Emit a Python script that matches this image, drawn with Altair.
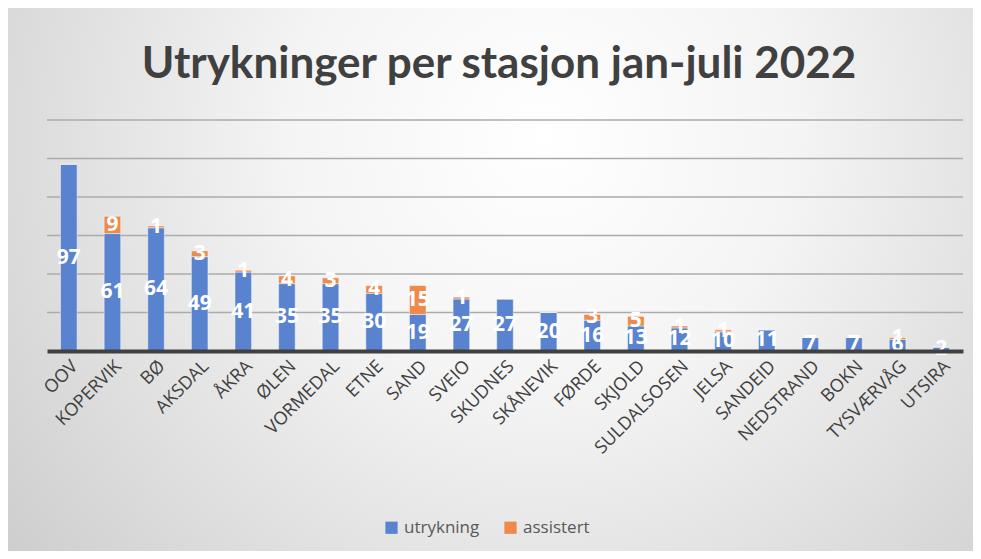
import altair as alt
import pandas as pd

stations = ["OOV", "KOPERVIK", "BØ", "AKSDAL", "ÅKRA", "ØLEN", "VORMEDAL", "ETNE", "SAND",
            "SVEIO", "SKUDNES", "SKÅNEVIK", "FØRDE", "SKJOLD", "SULDALSOSEN", "JELSA",
            "SANDEID", "NEDSTRAND", "BOKN", "TYSVÆRVÅG", "UTSIRA"]
utrykning = [97, 61, 64, 49, 41, 35, 35, 30, 19, 27, 27, 20, 16, 13, 12, 10, 11, 7, 7, 6, 2]
assistert = [0, 9, 1, 3, 1, 4, 3, 4, 15, 1, 0, 0, 3, 5, 1, 1, 0, 0, 0, 1, 0]
series = ["utrykning", "assistert"]
colors = ["#5A83CF", "#EE8B4C"]
y_ticks = [0, 20, 40, 60, 80, 100, 120]
title_text = "Utrykninger per stasjon jan-juli 2022"

rows = []
for s, u, a in zip(stations, utrykning, assistert):
    rows.append({"station": s, "type": "utrykning", "value": u, "ord": 0})
    rows.append({"station": s, "type": "assistert", "value": a, "ord": 1})
df = pd.DataFrame(rows)

W, H = 916, 231
PL, PT, PR, PB = 39, 112, 10, 200

x_enc = alt.X("station:N", sort=stations, title=None,
              scale=alt.Scale(paddingInner=0.62, paddingOuter=0.31),
              axis=alt.Axis(labelAngle=-45, labelFont="Open Sans", labelFontSize=18,
                            labelColor="#404040", labelPadding=6, ticks=False,
                            domainColor="#404040", domainWidth=4, grid=False, zindex=1))
y_scale = alt.Scale(domain=[0, 120], nice=False)

bg = alt.Chart(pd.DataFrame({"a": [0]})).mark_rect(
    color=alt.RadialGradient(
        gradient="radial",
        stops=[alt.GradientStop(color="#ffffff", offset=0),
               alt.GradientStop(color="#f4f4f4", offset=0.35),
               alt.GradientStop(color="#c9c9c9", offset=1)],
        x1=0.55, y1=0.35, r1=0, x2=0.55, y2=0.35, r2=0.75),
).encode(x=alt.value(-PL), x2=alt.value(W + PR + 8), y=alt.value(-PT), y2=alt.value(H + PB + 8))

title = alt.Chart(pd.DataFrame({"t": [title_text]})).mark_text(
    font="Lato", fontSize=44, fontWeight="bold", color="#404040",
    align="center", baseline="alphabetic").encode(
    x=alt.value(W / 2 - 6), y=alt.value(-42), text="t:N")

grid = alt.Chart(pd.DataFrame({"v": y_ticks[1:]})).mark_rule(
    color="#ababab", strokeWidth=1.5).encode(
    y=alt.Y("v:Q", scale=y_scale, axis=None),
    x=alt.value(0), x2=alt.value(W))

bars = alt.Chart(df).mark_bar(stroke="#ffffff", strokeOpacity=0.45, strokeWidth=1).encode(
    x=x_enc,
    y=alt.Y("value:Q", stack="zero", scale=y_scale, axis=None),
    color=alt.Color("type:N", sort=series,
                    scale=alt.Scale(domain=series, range=colors),
                    legend=alt.Legend(title=None, orient="none", direction="horizontal",
                                      legendX=336, legendY=399, symbolType="square",
                                      symbolSize=150, symbolStrokeWidth=0, symbolOpacity=1,
                                      labelFont="Open Sans", labelFontSize=17,
                                      labelColor="#595959", columnPadding=22, zindex=1)),
    order=alt.Order("ord:Q"),
)

labels = alt.Chart(df).transform_stack(
    stack="value", groupby=["station"], as_=["y0", "y1"],
    sort=[alt.SortField("ord", order="ascending")]
).transform_filter("datum.value > 0").transform_calculate(
    mid="(datum.y0 + datum.y1) / 2"
).mark_text(font="Open Sans", fontWeight="bold", fontSize=21, color="white",
            baseline="middle", align="center").encode(
    x=alt.X("station:N", sort=stations),
    y=alt.Y("mid:Q", scale=y_scale, axis=None),
    text="value:Q",
)

chart = alt.layer(bg, title, grid, bars, labels).properties(
    width=W, height=H,
    padding={"left": PL, "top": PT, "right": PR, "bottom": PB},
    autosize=alt.AutoSizeParams(type="none"),
).configure_view(stroke=None).configure(background="#ffffff")

chart.save("out.html", embed_options={"renderer": "svg", "actions": False})
